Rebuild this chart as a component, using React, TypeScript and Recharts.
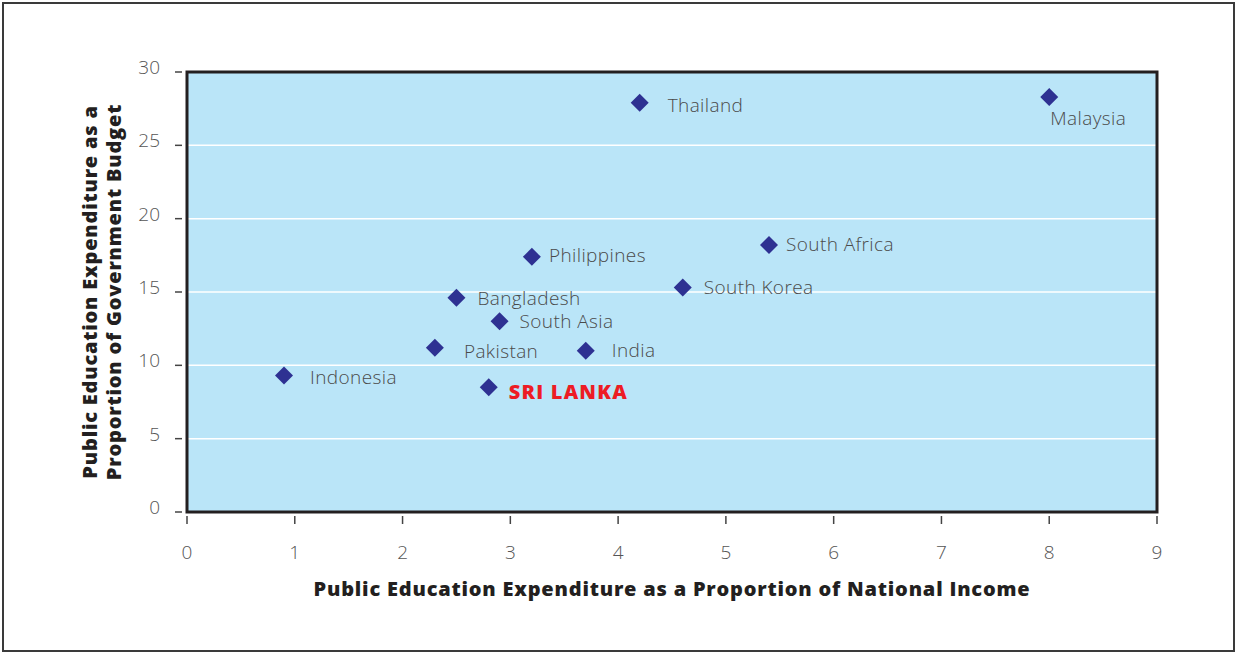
import {
  ScatterChart,
  Scatter,
  XAxis,
  YAxis,
  CartesianGrid,
  ReferenceArea,
} from "recharts";

const countries = [
  "Thailand",
  "Malaysia",
  "Philippines",
  "South Africa",
  "South Korea",
  "Bangladesh",
  "South Asia",
  "Pakistan",
  "India",
  "Indonesia",
  "SRI LANKA",
];
const shareOfIncome = [4.2, 8.0, 3.2, 5.4, 4.6, 2.5, 2.9, 2.3, 3.7, 0.9, 2.8];
const shareOfBudget = [27.9, 28.3, 17.4, 18.2, 15.3, 14.6, 13.0, 11.2, 11.0, 9.3, 8.5];

const xTicks = [0, 1, 2, 3, 4, 5, 6, 7, 8, 9];
const yTicks = [0, 5, 10, 15, 20, 25, 30];

const highlight = "SRI LANKA";

// where each label sits relative to its marker
const labelOffset: Record<string, [number, number]> = {
  Thailand: [28, 2],
  Malaysia: [1, 21],
  Philippines: [17, -2],
  "South Africa": [17, -1],
  "South Korea": [21, -1],
  Bangladesh: [21, 0],
  "South Asia": [20, 0],
  Pakistan: [29, 3],
  India: [26, -1],
  Indonesia: [26, 1],
  "SRI LANKA": [20, 4],
};

const points = countries.map((name, i) => ({
  name,
  x: shareOfIncome[i],
  y: shareOfBudget[i],
}));

const FONT = "'Open Sans', Lato, sans-serif";
const NAVY = "#2e3192";

const Marker = (props: any) => {
  const { cx, cy, payload } = props;
  const r = 9;
  const [dx, dy] = labelOffset[payload.name] || [20, 0];
  const isHi = payload.name === highlight;
  return (
    <g>
      <path
        d={`M${cx},${cy - r} L${cx + r},${cy} L${cx},${cy + r} L${cx - r},${cy} Z`}
        fill={NAVY}
      />
      <text
        x={cx + dx}
        y={cy + dy}
        dominantBaseline="central"
        fontFamily={FONT}
        fontSize={isHi ? 20 : 19}
        fontWeight={isHi ? 800 : 300}
        letterSpacing={isHi ? 1.2 : 0.4}
        fill={isHi ? "#ed1c24" : "#4a4a4a"}
      >
        {payload.name}
      </text>
    </g>
  );
};

const XTick = (props: any) => {
  const { x, y, payload } = props;
  return (
    <g>
      <line x1={x} x2={x} y1={y + 2} y2={y + 10} stroke="#444" strokeWidth={1.5} />
      <text x={x} y={y + 45} textAnchor="middle" fontFamily={FONT} fontWeight={300} fontSize={19} fill="#555">
        {payload.value}
      </text>
    </g>
  );
};

const YTick = (props: any) => {
  const { x, y, payload } = props;
  return (
    <g>
      <line x1={x - 10} x2={x - 3} y1={y} y2={y} stroke="#444" strokeWidth={1.5} />
      <text x={x - 25} y={y + 2} textAnchor="end" fontFamily={FONT} fontWeight={300} fontSize={19} fill="#555">
        {payload.value}
      </text>
    </g>
  );
};

const YTitle = (props: any) => {
  const { viewBox } = props;
  const cy = viewBox.y + viewBox.height / 2;
  const lines = ["Public Education Expenditure as a", "Proportion of Government Budget"];
  return (
    <g>
      {lines.map((t, i) => {
        const cx = viewBox.x + 89 + i * 24;
        return (
          <text
            key={t}
            x={cx}
            y={cy}
            transform={`rotate(-90 ${cx} ${cy})`}
            textAnchor="middle"
            dominantBaseline="central"
            fontFamily={FONT}
            fontWeight={800}
            fontSize={20}
            letterSpacing={0.8}
            fill="#231f20"
          >
            {t}
          </text>
        );
      })}
    </g>
  );
};

export default function App() {
  return (
    <div style={{ position: "absolute", left: 0, top: 0, width: 1237, height: 654, background: "#fff" }}>
      <div
        style={{
          position: "absolute",
          left: 2,
          top: 2,
          width: 1229,
          height: 646,
          border: "2px solid #3a3a3a",
        }}
      />
      <ScatterChart
        width={1237}
        height={654}
        margin={{ top: 72, right: 80, bottom: 0, left: 0 }}
        style={{ position: "absolute", left: 0, top: 0 }}
      >
        <CartesianGrid
          vertical={false}
          fill="#bae5f8"
          stroke="#ffffff"
          strokeWidth={1.5}
          horizontalValues={[5, 10, 15, 20, 25]}
        />
        <XAxis
          type="number"
          dataKey="x"
          domain={[0, 9]}
          ticks={xTicks}
          height={142}
          axisLine={false}
          tickLine={false}
          tickSize={0}
          tick={<XTick />}
          label={{
            value: "Public Education Expenditure as a Proportion of National Income",
            position: "insideBottom",
            offset: 58,
            fontFamily: FONT,
            fontWeight: 800,
            fontSize: 20,
            letterSpacing: 0.8,
            fill: "#231f20",
          }}
        />
        <YAxis
          type="number"
          dataKey="y"
          domain={[0, 30]}
          ticks={yTicks}
          width={187}
          axisLine={false}
          tickLine={false}
          tickSize={0}
          tick={<YTick />}
          label={<YTitle />}
        />
        <ReferenceArea
          x1={0}
          x2={9}
          y1={0}
          y2={30}
          fill="none"
          stroke="#231f20"
          strokeWidth={3}
        />
        <Scatter data={points} shape={<Marker />} isAnimationActive={false} />
      </ScatterChart>
    </div>
  );
}
